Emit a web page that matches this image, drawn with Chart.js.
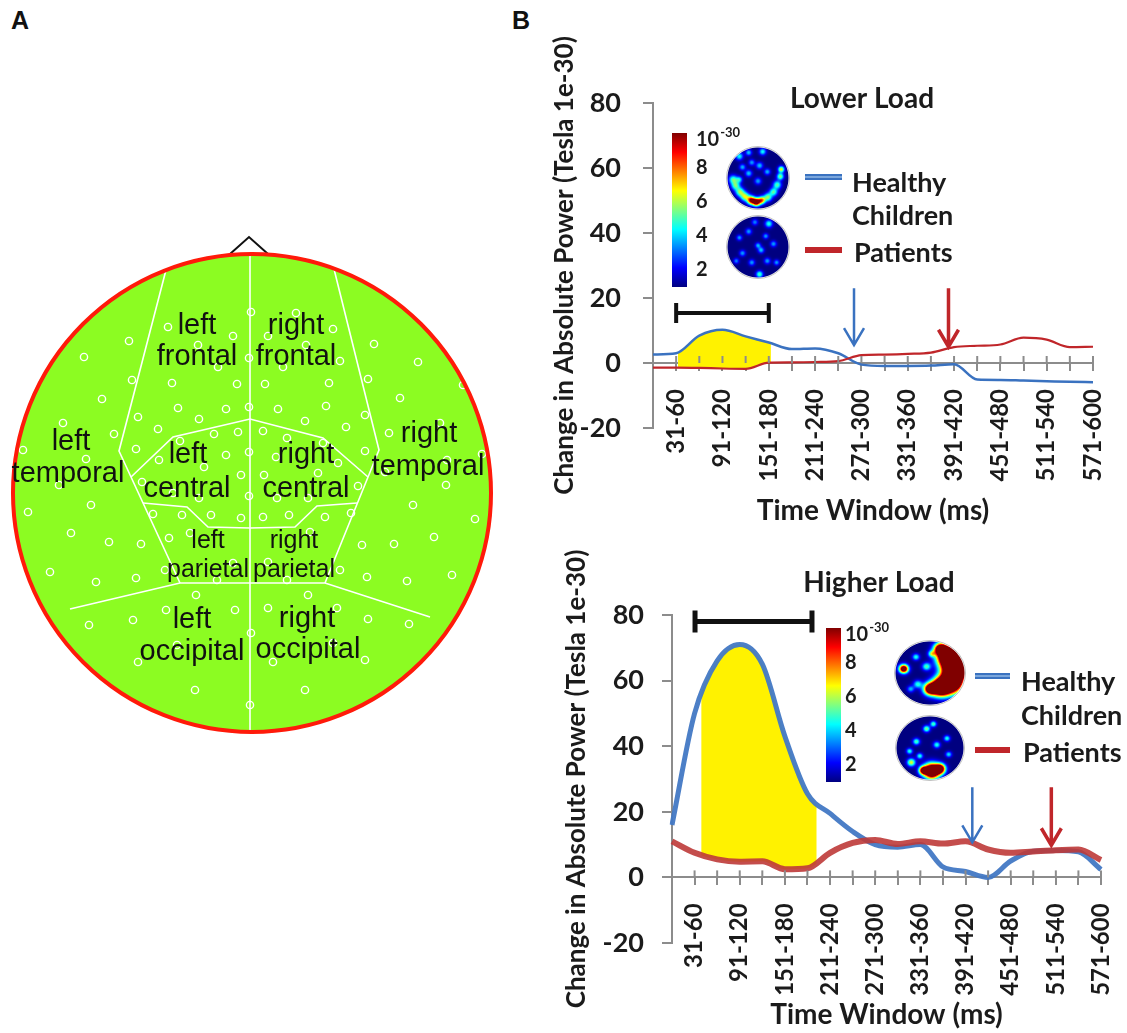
<!DOCTYPE html>
<html lang="en">
<head>
<meta charset="UTF-8" />
<title>MEG power change by memory load</title>
<script src="https://cdn.jsdelivr.net/npm/chart.js"></script>
<style>
  html, body { margin: 0; padding: 0; width: 1127px; height: 1033px; overflow: hidden; background: #fff; }
  canvas { position: absolute; }
  .panel { position: absolute; font: bold 25px "Liberation Sans", Arial, sans-serif; color: #111; }
</style>
</head>
<body>
<div class="panel" style="left:11px; top:6px;">A</div>
<div class="panel" style="left:512px; top:6px;">B</div>
<canvas id="head" width="505" height="520" style="left:0; top:225px;"></canvas>
<canvas id="lowChart" width="587" height="598" style="left:540px; top:0;"></canvas>
<canvas id="highChart" width="587" height="593" style="left:540px; top:520px;"></canvas>

<script>
// ---- data ----
const timeWindows = ['1-30', '31-60', '61-90', '91-120', '121-150', '151-180', '181-210', '211-240',
    '241-270', '271-300', '301-330', '331-360', '361-390', '391-420', '421-450', '451-480',
    '481-510', '511-540', '541-570', '571-600'];

const lowHealthy  = [2.6, 3.0, 8.4, 10.2, 8.2, 6.3, 4.3, 4.5, 3.0, -0.5, -0.9, -0.9, -0.8, -0.4, -5.1, -5.2, -5.4, -5.6, -5.8, -5.9];
const lowPatients = [-1.4, -1.4, -1.5, -1.7, -1.8, 0.1, 0.2, 0.3, 0.6, 2.4, 2.6, 2.8, 3.2, 4.9, 5.3, 5.7, 7.8, 7.2, 4.9, 5.0];

const highHealthy  = [16, 50, 66, 71, 65, 43, 25.5, 19.5, 14, 10, 9.2, 10, 3.2, 1.8, 0, 5, 8, 8.2, 7.8, 2.4];
const highPatients = [11, 7.5, 5.5, 4.8, 4.9, 2.5, 2.8, 7.5, 10.5, 11.4, 10.2, 11, 10.3, 11, 8.5, 7.5, 7.9, 8.3, 8.5, 5.3];

// significant window (category units), bracket [from, to, level], arrows [at, from, to]
const lowWindow = [1.08, 5.09];
const highWindow = [1.3, 6.4];
const lowBracket = [1, 5, 15.4];
const highBracket = [1.02, 6.2, 78];
const lowArrows = [[8.68, 23, 5.5], [12.76, 23, 5]];
const highArrows = [[13.3, 27.5, 10.7], [16.8, 27.5, 9.8]];
const colorbarTicks = [2, 4, 6, 8];

// panel A: electrode positions and region outlines (page pixels)
const electrodes = [[251,312],[296,313],[168,327],[233,336],[268,336],[333,329],[129,341],[198,345],[306,345],[374,344],
    [84,357],[249,358],[218,367],[283,367],[340,361],[418,362],[132,380],[172,383],[237,384],[265,384],[329,383],[368,379],
    [102,399],[178,408],[226,409],[249,407],[278,409],[326,406],[400,398],[463,385],[138,417],[199,419],[305,421],[365,415],
    [63,423],[114,434],[158,429],[180,441],[214,434],[238,432],[263,431],[287,438],[323,443],[346,427],[389,433],[440,423],
    [23,450],[136,449],[226,455],[249,452],[276,457],[365,451],[482,454],[86,459],[159,460],[204,467],[241,475],[264,475],
    [318,473],[338,463],[385,472],[447,460],[59,485],[142,482],[173,493],[199,498],[249,496],[277,498],[308,498],[358,486],
    [446,485],[91,505],[28,512],[153,514],[182,515],[211,515],[241,518],[263,517],[289,515],[325,517],[351,513],[413,505],
    [475,519],[71,533],[109,542],[141,544],[169,538],[190,533],[310,532],[362,545],[394,544],[434,537],[50,572],[96,582],
    [136,578],[165,570],[233,563],[268,562],[340,570],[367,577],[407,581],[452,575],[217,580],[287,580],[196,595],[308,595],
    [166,610],[235,610],[268,608],[337,608],[133,620],[368,619],[89,625],[409,624],[251,633],[177,645],[333,643],[138,662],
    [365,660],[273,662],[195,690],[250,705],[305,690]];

const regionLines = [
    [[250,254],[250,732]],
    [[166,270],[119,451],[180,583]],
    [[334,269],[379,450],[325,583]],
    [[70,609],[180,583],[325,583],[430,617]],
    [[131,477],[173,437],[250,419],[323,438],[368,477]],
    [[143,503],[187,507],[208,527],[250,528],[295,527],[317,506],[357,503]]
];

const regionLabels = [
    ['left', 197, 334, 29], ['frontal', 197, 365, 29], ['right', 296, 334, 29], ['frontal', 296, 365, 29],
    ['left', 71, 450, 29], ['temporal', 68, 482, 29], ['right', 429, 442, 29], ['temporal', 428, 475, 29],
    ['left', 188, 463, 29], ['central', 187, 497, 29], ['right', 306, 463, 29], ['central', 306, 497, 29],
    ['left', 208, 548, 25], ['parietal', 208, 577, 25], ['right', 294, 548, 25], ['parietal', 294, 577, 25],
    ['left', 192, 628, 29], ['occipital', 192, 660, 29], ['right', 307, 627, 29], ['occipital', 308, 658, 29]
];

// ---- styles ----
const axisGrey = '#8c8c8c';
const ink = '#1b1b1b';
const font = 'Lato';
Chart.defaults.font.family = font;
Chart.defaults.color = ink;

function jet(v) {
    const c = (t) => Math.max(0, Math.min(1, t));
    return [c(1.5 - Math.abs(4 * v - 3)), c(1.5 - Math.abs(4 * v - 2)), c(1.5 - Math.abs(4 * v - 1))]
        .map((t) => Math.round(t * 255));
}

// small scalp maps drawn as a field of blobs [u, v, radius, strength]
function topoImage(rx, ry, blobs) {
    const c = document.createElement('canvas');
    c.width = rx * 2;
    c.height = ry * 2;
    const g = c.getContext('2d');
    const img = g.createImageData(c.width, c.height);
    for (let py = 0; py < c.height; py++) {
        for (let px = 0; px < c.width; px++) {
            const u = (px + 0.5 - rx) / rx, v = (py + 0.5 - ry) / ry;
            const rr = Math.sqrt(u * u + v * v);
            if (rr > 1) continue;
            let val = 0;
            blobs.forEach((b) => {
                const d2 = ((u - b[0]) ** 2 + (v - b[1]) ** 2) / (b[2] * b[2]);
                val += b[3] * Math.exp(-d2);
            });
            const rgb = jet(Math.min(1, val));
            const k = (py * c.width + px) * 4;
            img.data[k] = rgb[0];
            img.data[k + 1] = rgb[1];
            img.data[k + 2] = rgb[2];
            img.data[k + 3] = Math.round(Math.min(1, (1 - rr) * rx) * 255);
        }
    }
    g.putImageData(img, 0, 0);
    return c;
}

const topoLowHealthy = [[-0.8,0.05,0.14,0.45],[-0.72,0.25,0.14,0.45],[-0.58,0.45,0.14,0.5],[-0.42,0.6,0.14,0.55],
    [-0.22,0.72,0.13,0.95],[-0.05,0.78,0.12,1.1],[0.12,0.72,0.12,0.75],[0.32,0.62,0.13,0.5],[0.5,0.45,0.13,0.45],
    [0.62,0.22,0.13,0.45],[0.72,-0.05,0.11,0.5],[0.75,-0.28,0.1,0.6],[-0.6,-0.7,0.12,0.38],[-0.3,-0.82,0.1,0.32],
    [0.15,-0.85,0.11,0.38],[-0.3,-0.15,0.11,0.32],[0.05,-0.4,0.11,0.32],[-0.5,-0.35,0.1,0.3],[0.3,-0.2,0.1,0.3],
    [0.0,0.1,0.11,0.28],[-0.6,0.05,0.1,0.32],[-0.2,-0.5,0.1,0.28]];
const topoLowPatients = [[0.35,-0.75,0.12,0.4],[-0.3,-0.5,0.1,0.28],[0.1,0.1,0.1,0.32],[-0.5,0.2,0.1,0.28],
    [0.5,-0.1,0.1,0.28],[0,-0.05,0.09,0.3],[0.3,0.45,0.1,0.28],[-0.2,0.5,0.1,0.28],[0.05,0.88,0.11,0.45],
    [0.6,0.5,0.09,0.28],[-0.6,-0.3,0.09,0.28],[0.25,-0.35,0.09,0.28],[-0.1,-0.8,0.1,0.25],[-0.7,0.45,0.09,0.25]];
const topoHighHealthy = [[0.55,-0.5,0.3,2.2],[0.72,-0.1,0.3,2.2],[0.6,0.3,0.3,2],[0.3,0.45,0.25,1.8],
    [0.0,0.5,0.18,1.2],[0.3,-0.75,0.18,1.2],[-0.75,-0.13,0.13,1.3],[-0.1,-0.2,0.12,0.45],[-0.4,-0.5,0.1,0.4],
    [-0.35,0.35,0.12,0.4],[0.05,-0.6,0.1,0.45],[-0.55,0.5,0.1,0.3]];
const topoHighPatients = [[0.05,0.72,0.22,1.8],[0.3,0.65,0.15,1.2],[-0.2,0.7,0.12,1],[-0.55,0.45,0.12,0.6],
    [-0.1,-0.6,0.1,0.5],[0.1,-0.75,0.09,0.45],[-0.4,-0.2,0.1,0.45],[0.2,-0.1,0.1,0.4],[-0.6,0.1,0.09,0.4],
    [0.5,-0.3,0.09,0.4],[-0.3,0.25,0.09,0.4],[0.55,0.2,0.09,0.35]];

function decorPlugin(d) {
    return {
        id: 'decor',
        beforeDatasetsDraw(chart) {
            // restrict the yellow fill to the significant window
            const { ctx, chartArea: a, scales: { x } } = chart;
            const x0 = x.getPixelForValue(d.window[0]);
            const x1 = x.getPixelForValue(d.window[1]);
            ctx.save();
            ctx.beginPath();
            ctx.rect(x0, a.top, x1 - x0, a.bottom - a.top);
            ctx.clip();
        },
        afterDatasetDraw(chart, args) {
            if (args.index === 2) chart.ctx.restore();
        },
        afterDraw(chart) {
            const { ctx, scales: { x, y } } = chart;
            const [ox, oy] = d.offset;
            const y0 = y.getPixelForValue(0);
            ctx.save();

            // tick marks above the zero line
            ctx.strokeStyle = axisGrey;
            ctx.lineWidth = 2;
            x.ticks.forEach((t, i) => {
                if (!i) return;
                const px = x.getPixelForTick(i);
                ctx.beginPath();
                ctx.moveTo(px, y0);
                ctx.lineTo(px, y0 - 7);
                ctx.stroke();
            });

            // bracket
            const bx0 = x.getPixelForValue(d.bracket[0]);
            const bx1 = x.getPixelForValue(d.bracket[1]);
            const by = y.getPixelForValue(d.bracket[2]);
            ctx.strokeStyle = '#111';
            ctx.lineWidth = d.bracketWidth;
            ctx.beginPath();
            ctx.moveTo(bx0, by); ctx.lineTo(bx1, by);
            ctx.moveTo(bx0, by - d.capHalf); ctx.lineTo(bx0, by + d.capHalf);
            ctx.moveTo(bx1, by - d.capHalf); ctx.lineTo(bx1, by + d.capHalf);
            ctx.stroke();

            // arrows
            d.arrows.forEach((arr, i) => {
                const ax = x.getPixelForValue(arr[0]);
                const ay0 = y.getPixelForValue(arr[1]);
                const ay1 = y.getPixelForValue(arr[2]);
                ctx.strokeStyle = i ? '#c0262a' : '#3a72c0';
                ctx.lineWidth = i ? 3.5 : 2.5;
                ctx.beginPath();
                ctx.moveTo(ax, ay0); ctx.lineTo(ax, ay1);
                ctx.moveTo(ax - 10, ay1 - 17); ctx.lineTo(ax, ay1); ctx.lineTo(ax + 10, ay1 - 17);
                ctx.stroke();
            });

            // panel title
            ctx.fillStyle = ink;
            ctx.textAlign = 'center';
            ctx.textBaseline = 'middle';
            ctx.font = `bold 28px ${font}`;
            ctx.fillText(d.title[0], d.title[1] - ox, d.title[2] - oy);

            // colour bar
            const [bl, bt, bw, bh] = [d.bar[0] - ox, d.bar[1] - oy, d.bar[2], d.bar[3]];
            const grad = ctx.createLinearGradient(0, bt, 0, bt + bh);
            for (let k = 0; k <= 8; k++) {
                const c = jet(1 - k / 8);
                grad.addColorStop(k / 8, `rgb(${c[0]},${c[1]},${c[2]})`);
            }
            ctx.fillStyle = grad;
            ctx.fillRect(bl, bt, bw, bh);
            ctx.fillStyle = ink;
            ctx.textAlign = 'left';
            ctx.font = `bold 20px ${font}`;
            const lx = d.barLabelX - ox;
            colorbarTicks.forEach((v) => {
                ctx.fillText(String(v), lx, bt + bh - ((v - 1) / 9) * bh);
            });
            ctx.fillText('10', lx, bt + 7);
            const w10 = ctx.measureText('10').width;
            ctx.font = `bold 13px ${font}`;
            ctx.fillText('-30', lx + w10 + 1, bt);

            // scalp maps
            d.topos.forEach((t) => {
                const img = topoImage(t[2], t[3], t[4]);
                ctx.drawImage(img, t[0] - ox - t[2], t[1] - oy - t[3]);
                ctx.strokeStyle = 'rgba(150,150,150,0.6)';
                ctx.lineWidth = 1;
                ctx.beginPath();
                ctx.ellipse(t[0] - ox, t[1] - oy, t[2] + 0.5, t[3] + 0.5, 0, 0, 2 * Math.PI);
                ctx.stroke();
            });

            // legend
            const L = d.legend;
            ctx.lineWidth = 6;
            ctx.strokeStyle = '#3a72c0';
            ctx.beginPath(); ctx.moveTo(L.x0 - ox, L.blueY - oy); ctx.lineTo(L.x1 - ox, L.blueY - oy); ctx.stroke();
            ctx.lineWidth = 2;
            ctx.strokeStyle = '#7aa6dc';
            ctx.beginPath(); ctx.moveTo(L.x0 - ox, L.blueY - oy); ctx.lineTo(L.x1 - ox, L.blueY - oy); ctx.stroke();
            ctx.lineWidth = 6;
            ctx.strokeStyle = '#c0262a';
            ctx.beginPath(); ctx.moveTo(L.x0 - ox, L.redY - oy); ctx.lineTo(L.x1 - ox, L.redY - oy); ctx.stroke();
            ctx.fillStyle = ink;
            ctx.font = `bold 27px ${font}`;
            ctx.textAlign = 'left';
            ctx.fillText('Healthy', L.tx - ox, L.healthyY - oy);
            ctx.fillText('Children', L.tx - ox, L.childrenY - oy);
            ctx.fillText('Patients', L.tx + 2 - ox, L.patientsY - oy);

            ctx.restore();
        }
    };
}

function lineChart(id, healthy, patients, lw, layout, decor) {
    return new Chart(document.getElementById(id), {
        type: 'line',
        data: {
            labels: timeWindows,
            datasets: [
                {
                    label: 'Healthy Children', data: healthy, borderColor: lw.blueColor, borderWidth: lw.blue,
                    pointRadius: 0, cubicInterpolationMode: 'monotone', fill: false, order: 1
                },
                {
                    label: 'Patients', data: patients, borderColor: lw.redColor, borderWidth: lw.red,
                    pointRadius: 0, cubicInterpolationMode: 'monotone', fill: false, order: 0
                },
                {
                    label: 'window', data: healthy, borderColor: 'rgba(0,0,0,0)', borderWidth: 0,
                    backgroundColor: '#fff200', pointRadius: 0, cubicInterpolationMode: 'monotone', fill: 1, order: 2
                }
            ]
        },
        options: {
            responsive: false,
            animation: false,
            events: [],
            layout: { autoPadding: false, padding: layout.padding },
            plugins: { legend: { display: false }, tooltip: { enabled: false } },
            scales: {
                x: {
                    type: 'category',
                    position: { y: 0 },
                    z: 1,
                    afterFit: (s) => {
                        s.height = layout.xHeight;
                        s.paddingLeft = 0;
                        s.paddingRight = 0;
                    },
                    border: { color: axisGrey, width: 2 },
                    grid: { drawOnChartArea: false, tickLength: 7, color: axisGrey, lineWidth: 2 },
                    ticks: {
                        autoSkip: false, minRotation: 90, maxRotation: 90, padding: layout.xPad,
                        font: { size: 24, weight: 'bold' },
                        callback: (v, i) => (i % 2 === 1 ? timeWindows[i] : '')
                    },
                    title: {
                        display: true, text: 'Time Window (ms)', font: { size: 28, weight: 'bold' },
                        padding: { top: 0, bottom: layout.xTitlePad }
                    }
                },
                y: {
                    min: -20, max: 80,
                    afterFit: (s) => { s.width = layout.yWidth; },
                    border: { color: axisGrey, width: 2 },
                    grid: { drawOnChartArea: false, tickLength: 10, color: axisGrey, lineWidth: 2 },
                    ticks: { stepSize: 20, padding: layout.yPad, font: { size: 27, weight: 'bold' } },
                    title: {
                        display: true, text: 'Change in Absolute Power (Tesla 1e-30)',
                        font: { size: 26, weight: 'bold' }, padding: { top: layout.yTitlePad, bottom: 0 }
                    }
                }
            }
        },
        plugins: [decorPlugin(decor)]
    });
}

lineChart('lowChart', lowHealthy, lowPatients,
    { blue: 2.5, red: 2.2, blueColor: '#3a72c0', redColor: '#c0262a' },
    { padding: { left: 0, top: 103, right: 34, bottom: 170 }, xHeight: 170, xPad: 19, xTitlePad: 5, yWidth: 113, yPad: 22, yTitlePad: 9 },
    {
        offset: [540, 0], window: lowWindow, bracket: lowBracket, bracketWidth: 4, capHalf: 10, arrows: lowArrows,
        title: ['Lower Load', 862, 99], bar: [672, 133, 15, 154], barLabelX: 696,
        topos: [[758, 178, 31, 31, topoLowHealthy], [758, 247, 31, 31, topoLowPatients]],
        legend: { x0: 805, x1: 842, tx: 852, blueY: 177, redY: 250, healthyY: 183, childrenY: 216, patientsY: 253 }
    });

lineChart('highChart', highHealthy, highPatients,
    { blue: 5, red: 6, blueColor: 'rgba(66,120,196,0.95)', redColor: 'rgba(190,58,56,0.9)' },
    { padding: { left: 0, top: 95, right: 26, bottom: 170 }, xHeight: 170, xPad: 19, xTitlePad: 16, yWidth: 132, yPad: 18, yTitlePad: 21 },
    {
        offset: [540, 520], window: highWindow, bracket: highBracket, bracketWidth: 5, capHalf: 11, arrows: highArrows,
        title: ['Higher Load', 879, 583], bar: [826, 628, 15, 154], barLabelX: 845,
        topos: [[930, 673, 35, 32, topoHighHealthy], [930, 748, 34, 32, topoHighPatients]],
        legend: { x0: 975, x1: 1010, tx: 1021, blueY: 676, redY: 750, healthyY: 682, childrenY: 716, patientsY: 753 }
    });

// ---- panel A: scalp regions ----
const headCenter = [252, 493];
const headRadius = 239;
const nose = [[230, 254], [249, 237], [268, 254]];

const headPlugin = {
    id: 'head',
    beforeDatasetsDraw(chart) {
        const { ctx, scales: { x, y } } = chart;
        const cx = x.getPixelForValue(headCenter[0]), cy = y.getPixelForValue(headCenter[1]);
        const r = x.getPixelForValue(headCenter[0] + headRadius) - cx;
        ctx.save();
        ctx.strokeStyle = '#111';
        ctx.lineWidth = 2;
        ctx.beginPath();
        nose.forEach((p, i) => {
            const px = x.getPixelForValue(p[0]), py = y.getPixelForValue(p[1]);
            i ? ctx.lineTo(px, py) : ctx.moveTo(px, py);
        });
        ctx.stroke();
        ctx.fillStyle = '#8cfc22';
        ctx.beginPath();
        ctx.arc(cx, cy, r, 0, 2 * Math.PI);
        ctx.fill();
        ctx.restore();
    },
    afterDatasetsDraw(chart) {
        const { ctx, scales: { x, y } } = chart;
        const cx = x.getPixelForValue(headCenter[0]), cy = y.getPixelForValue(headCenter[1]);
        const r = x.getPixelForValue(headCenter[0] + headRadius) - cx;
        ctx.save();
        ctx.strokeStyle = '#ff1a0a';
        ctx.lineWidth = 4;
        ctx.beginPath();
        ctx.arc(cx, cy, r, 0, 2 * Math.PI);
        ctx.stroke();
        ctx.fillStyle = '#111';
        ctx.textAlign = 'center';
        ctx.textBaseline = 'alphabetic';
        regionLabels.forEach((l) => {
            ctx.font = `${l[3]}px "Liberation Sans", Arial, sans-serif`;
            ctx.fillText(l[0], x.getPixelForValue(l[1]), y.getPixelForValue(l[2]));
        });
        ctx.restore();
    }
};

new Chart(document.getElementById('head'), {
    type: 'scatter',
    data: {
        datasets: [
            {
                data: electrodes, pointRadius: 3.6, borderColor: '#ffffff', backgroundColor: 'rgba(0,0,0,0)',
                borderWidth: 1.4, order: 0
            },
            ...regionLines.map((pts) => ({
                data: pts, showLine: true, borderColor: '#ffffff', borderWidth: 1.6, pointRadius: 0, order: 1
            }))
        ]
    },
    options: {
        responsive: false,
        animation: false,
        events: [],
        layout: { autoPadding: false, padding: 0 },
        plugins: { legend: { display: false }, tooltip: { enabled: false } },
        scales: {
            x: { type: 'linear', display: false, min: 0, max: 505 },
            y: { type: 'linear', display: false, min: 225, max: 745, reverse: true }
        }
    },
    plugins: [headPlugin]
});
</script>
</body>
</html>
